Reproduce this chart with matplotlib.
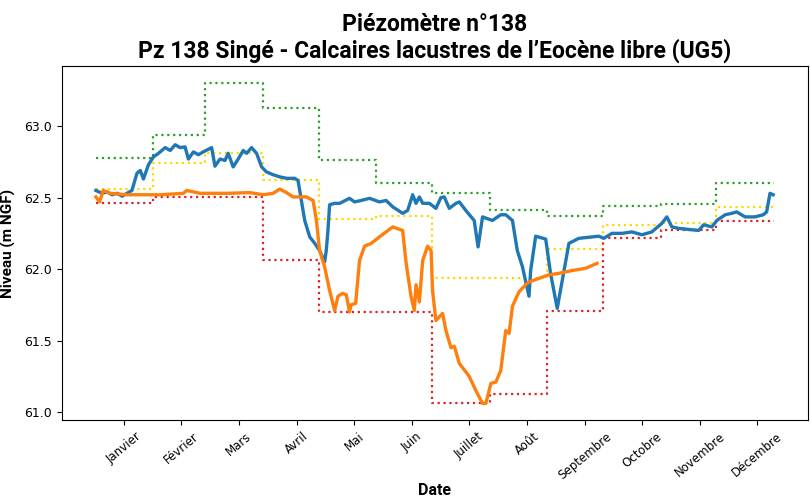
import matplotlib
matplotlib.use("Agg")
import matplotlib.pyplot as plt
import numpy as np

# --- Data (day of year, level in m NGF) ---
months = ["Janvier", "Février", "Mars", "Avril", "Mai", "Juin", "Juillet",
          "Août", "Septembre", "Octobre", "Novembre", "Décembre"]
month_ticks = [15, 46, 77, 108, 139, 170, 201, 232, 263, 294, 325, 356]
month_starts = [0, 31, 59, 90, 120, 151, 181, 212, 243, 273, 304, 334, 365]

seuil_max = [62.78, 62.94, 63.30, 63.13, 62.76, 62.60, 62.53, 62.41, 62.37, 62.44, 62.455, 62.60]
seuil_moy = [62.56, 62.74, 62.81, 62.62, 62.35, 62.37, 61.935, 61.935, 62.14, 62.31, 62.32, 62.435]
seuil_min = [62.465, 62.505, 62.505, 62.065, 61.70, 61.70, 61.06, 61.125, 61.71, 62.215, 62.27, 62.335]

blue_day = [0, 3.3, 6, 8.7, 11.4, 14.1, 16.7, 19.4, 22.1, 23.9, 25.6, 28.3, 31, 33.7, 37.3, 40,
            42.7, 45.3, 48, 49.8, 52.5, 55.2, 57.8, 62.3, 64.1, 66.8, 69.5, 71.2, 73.9, 76.6,
            79.3, 81.1, 83.8, 86.5, 89.2, 91.8, 95.4, 99, 102.6, 107, 108.8, 110.6, 112.4,
            115.1, 117.8, 120.4, 123.1, 124, 124.9, 125.8, 128.5, 131.2, 136.5, 139.2, 142.8,
            147.3, 152.6, 156.2, 159.8, 165.1, 167.8, 170.5, 172.3, 174.1, 175.9, 179.5, 183,
            185.7, 187.5, 190.2, 193.8, 195.6, 199.1, 203.6, 205.7, 208.1, 213.4, 217.9, 220.6,
            224.2, 226.8, 229.5, 233.1, 234, 236.7, 242.1, 244.7, 248.3, 251, 254.6, 259.9,
            270.7, 273.3, 277.8, 283.2, 288.5, 293.9, 299.2, 304.6, 307.3, 310, 313.6, 324.4,
            327.1, 331.5, 334.2, 338.7, 342.2, 344.9, 349.4, 354.7, 359.2, 361, 362.8, 364.5]
blue_val = [62.55, 62.53, 62.54, 62.52, 62.53, 62.51, 62.53, 62.55, 62.67, 62.69, 62.63, 62.73,
            62.785, 62.81, 62.85, 62.83, 62.87, 62.85, 62.855, 62.77, 62.82, 62.80, 62.82, 62.85,
            62.72, 62.77, 62.76, 62.81, 62.715, 62.77, 62.83, 62.81, 62.85, 62.81, 62.715, 62.68,
            62.66, 62.645, 62.635, 62.635, 62.62, 62.48, 62.34, 62.225, 62.18, 62.13, 62.05,
            62.13, 62.27, 62.45, 62.46, 62.46, 62.495, 62.47, 62.48, 62.495, 62.47, 62.48,
            62.435, 62.39, 62.41, 62.52, 62.46, 62.505, 62.46, 62.46, 62.425, 62.50, 62.505,
            62.425, 62.46, 62.47, 62.41, 62.34, 62.155, 62.365, 62.34, 62.38, 62.38, 62.34,
            62.13, 62.02, 61.81, 61.99, 62.23, 62.21, 61.97, 61.725, 61.92, 62.18, 62.215,
            62.23, 62.215, 62.25, 62.25, 62.26, 62.24, 62.26, 62.32, 62.365, 62.295, 62.285,
            62.27, 62.31, 62.295, 62.34, 62.38, 62.39, 62.40, 62.365, 62.365, 62.38, 62.40,
            62.53, 62.52]

orange_day = [0, 2, 3.9, 7.8, 16.7, 25.6, 34.6, 47.1, 48.9, 56.1, 70.4, 82.9, 90, 95.4, 99,
              102.6, 106.1, 113.3, 116.9, 118.7, 120.4, 123.1, 125.8, 128.5, 130.3, 132.9,
              134.8, 136.5, 137.4, 139.8, 141.9, 144.6, 148.2, 152.6, 156.2, 159.8, 165.1, 167,
              169.6, 171.4, 172.3, 174.1, 175.9, 178.5, 180.4, 181.2, 183, 186.6, 188.4, 191.1,
              192.9, 195.6, 200.9, 204.5, 208.1, 209.9, 212.6, 215.3, 217.9, 220.6, 222.4,
              224.2, 227.7, 231.3, 233.1, 238.5, 243.8, 249.2, 256.3, 263.5, 269.7]
orange_val = [62.505, 62.47, 62.55, 62.53, 62.52, 62.52, 62.52, 62.53, 62.55, 62.53, 62.53,
              62.535, 62.52, 62.53, 62.56, 62.535, 62.505, 62.505, 62.48, 62.34, 62.13, 62.016,
              61.85, 61.71, 61.81, 61.83, 61.82, 61.70, 61.75, 61.76, 62.06, 62.16, 62.18,
              62.225, 62.26, 62.295, 62.27, 62.04, 61.81, 61.71, 61.89, 61.77, 62.06, 62.16,
              62.13, 61.85, 61.64, 61.69, 61.57, 61.45, 61.46, 61.34, 61.25, 61.15, 61.06,
              61.06, 61.20, 61.21, 61.29, 61.57, 61.55, 61.74, 61.84, 61.89, 61.91, 61.935,
              61.96, 61.97, 61.99, 62.005, 62.04]

# --- Figure ---
fig = plt.figure(figsize=(8.1, 5.01), dpi=100)
ax = fig.add_axes([0.0765, 0.1617, 0.921, 0.7063])

def steps(vals):
    return list(vals) + [vals[-1]]

ax.step(month_starts, steps(seuil_max), where="post", color="tab:green", ls=":", lw=1.6)
ax.step(month_starts, steps(seuil_moy), where="post", color="gold", ls=":", lw=1.6)
ax.step(month_starts, steps(seuil_min), where="post", color="tab:red", ls=":", lw=1.6)
ax.plot(blue_day, blue_val, color="tab:blue", lw=2.4)
ax.plot(orange_day, orange_val, color="tab:orange", lw=2.4)

ax.set_ylim(60.944, 63.42)
ax.set_yticks([61.0, 61.5, 62.0, 62.5, 63.0])
ax.set_xticks(month_ticks)
ax.set_xticklabels(months, rotation=40, fontsize=8.5)
ax.tick_params(axis="y", labelsize=9)

ax.set_xlabel("Date", fontsize=11.5, fontweight="bold", family="Roboto")
ax.xaxis.set_label_coords(0.5, -0.178)
ax.set_ylabel("Niveau (m NGF)", fontsize=11, fontweight="bold", family="Roboto", labelpad=6)
ax.set_title("Piézomètre n°138\nPz 138 Singé - Calcaires lacustres de l\u2019Eocène libre (UG5)",
             fontsize=16.5, fontweight="bold", family="Roboto", linespacing=1.15, pad=6)

fig.savefig("out.png", dpi=100)
